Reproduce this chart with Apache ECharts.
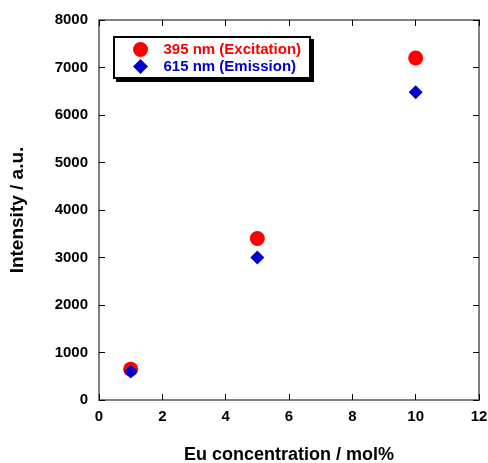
<!DOCTYPE html>
<html>
<head>
<meta charset="utf-8">
<script src="https://cdn.jsdelivr.net/npm/echarts@6/dist/echarts.min.js"></script>
<style>
  html, body { margin: 0; padding: 0; background: #fff; }
  #main { width: 488px; height: 463px; }
</style>
</head>
<body>
<div id="main"></div>
<script>
  // data
  var euConc = [1, 5, 10];
  var excitation = [650, 3400, 7200];   // 395 nm
  var emission = [600, 3000, 6480];     // 615 nm
  var names = ['395 nm (Excitation)', '615 nm (Emission)'];
  var colors = ['#ff0000', '#0000cc'];

  var fontFam = 'Liberation Sans, Arial, sans-serif';
  var diamondPath = 'path://M0,-1L1,0L0,1L-1,0Z';

  function pairs(xs, ys) {
    var out = [];
    for (var i = 0; i < xs.length; i++) out.push([xs[i], ys[i]]);
    return out;
  }
  function inTick() {
    return { show: true, inside: true, length: 6, lineStyle: { color: '#000', width: 1 } };
  }
  function axLine() {
    return { show: true, onZero: false, lineStyle: { color: '#808080', width: 2 } };
  }
  // legend box; the second copy (black, shifted) acts as the drop shadow
  function legendBox(left, top, isShadow) {
    var c0 = isShadow ? '#000' : colors[0];
    var c1 = isShadow ? '#000' : colors[1];
    return {
      orient: 'vertical',
      left: left,
      top: top,
      z: isShadow ? 4 : 5,
      selectedMode: false,
      itemWidth: 36,
      itemHeight: 15,
      itemGap: 2,
      symbolKeepAspect: true,
      padding: [5, 9, 4, 19],
      borderColor: '#000',
      borderWidth: 2,
      backgroundColor: isShadow ? '#000' : '#fff',
      data: [
        { name: names[0], icon: 'circle', itemStyle: { color: c0 }, textStyle: { color: c0 } },
        { name: names[1], icon: diamondPath, itemStyle: { color: c1 }, textStyle: { color: c1 } }
      ],
      textStyle: { fontFamily: fontFam, fontWeight: 'bold', fontSize: 15, lineHeight: 15 }
    };
  }

  var myChart = echarts.init(document.getElementById('main'));

  var option = {
    animation: false,
    grid: { left: 99, right: 9, top: 20, bottom: 63, containLabel: false, outerBoundsMode: 'none' },
    legend: [legendBox(117, 40, true), legendBox(114, 37, false)],
    xAxis: [{
      type: 'value',
      min: 0, max: 12, interval: 2,
      name: 'Eu concentration / mol%',
      nameLocation: 'middle',
      nameGap: 46,
      nameTextStyle: { fontFamily: fontFam, fontWeight: 'bold', fontSize: 18, color: '#000' },
      axisLine: axLine(),
      axisTick: inTick(),
      axisLabel: { fontFamily: fontFam, fontWeight: 'bold', fontSize: 15, color: '#000', margin: 9 },
      splitLine: { show: false }
    }, {
      type: 'value',
      position: 'top',
      min: 0, max: 12, interval: 2,
      axisLine: axLine(),
      axisTick: inTick(),
      axisLabel: { show: false },
      splitLine: { show: false }
    }],
    yAxis: [{
      type: 'value',
      min: 0, max: 8000, interval: 1000,
      name: 'Intensity / a.u.',
      nameLocation: 'middle',
      nameGap: 72,
      nameTextStyle: { fontFamily: fontFam, fontWeight: 'bold', fontSize: 19, color: '#000' },
      axisLine: axLine(),
      axisTick: inTick(),
      axisLabel: {
        fontFamily: fontFam, fontWeight: 'bold', fontSize: 15, color: '#000', margin: 11,
        formatter: function (v) { return String(v); }
      },
      splitLine: { show: false }
    }, {
      type: 'value',
      position: 'right',
      min: 0, max: 8000, interval: 1000,
      axisLine: axLine(),
      axisTick: inTick(),
      axisLabel: { show: false },
      splitLine: { show: false }
    }],
    series: [{
      name: names[0],
      type: 'scatter',
      symbol: 'circle',
      symbolSize: 15,
      itemStyle: { color: colors[0], opacity: 1 },
      data: pairs(euConc, excitation),
      z: 2
    }, {
      name: names[1],
      type: 'scatter',
      symbol: 'diamond',
      symbolSize: 14,
      itemStyle: { color: colors[1], opacity: 1 },
      data: pairs(euConc, emission),
      z: 3
    }]
  };

  myChart.setOption(option);
</script>
</body>
</html>
